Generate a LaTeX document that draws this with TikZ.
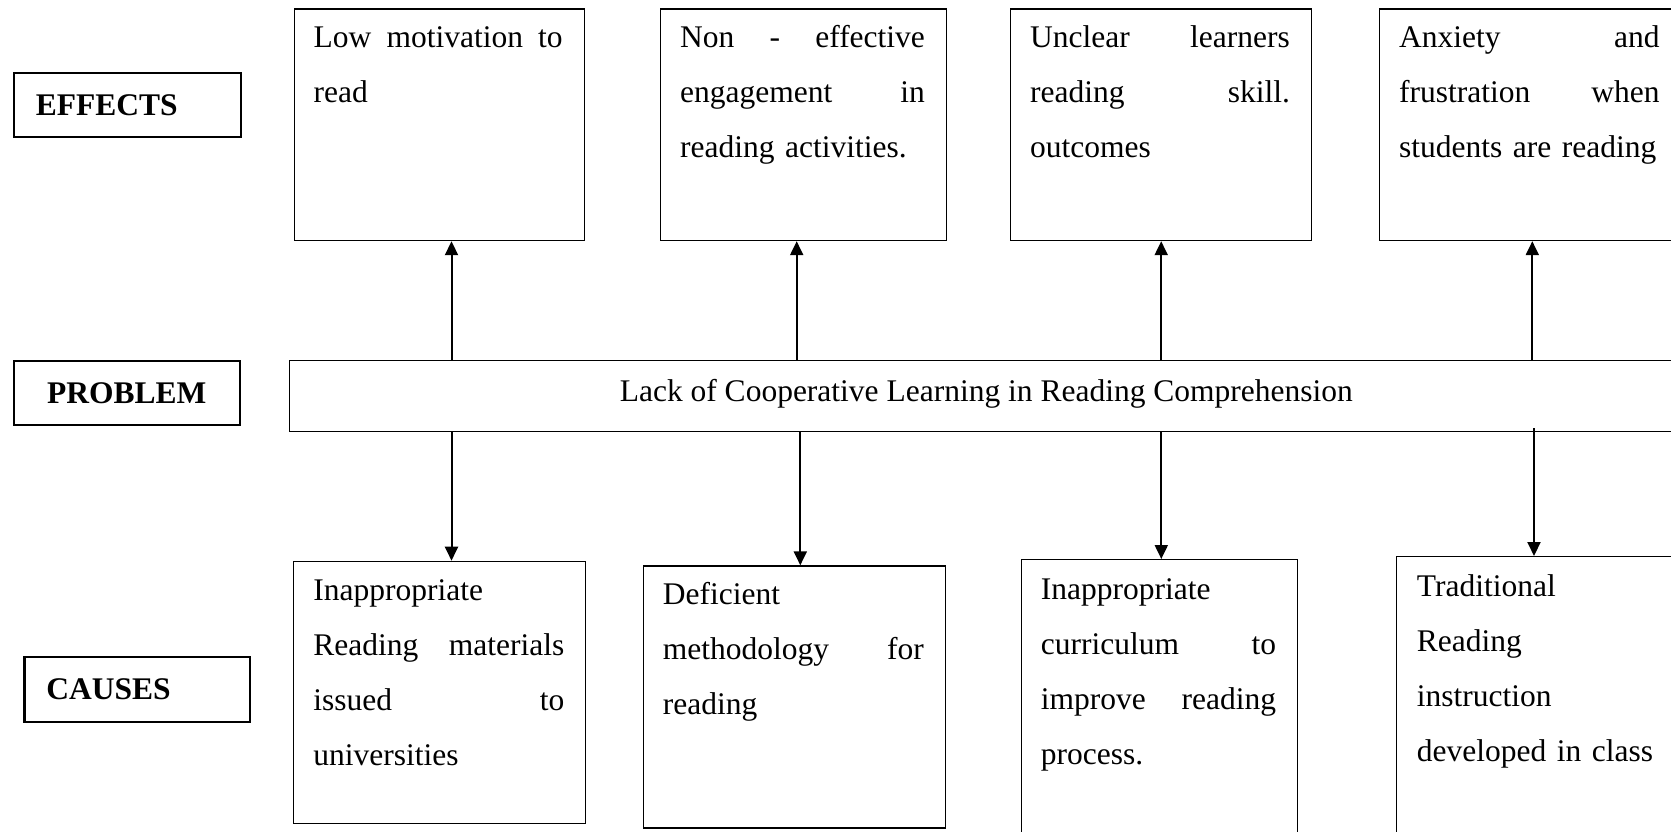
\documentclass[tikz,border=0pt]{standalone}
\usepackage{fontspec}
\setmainfont{Liberation Serif}
\usetikzlibrary{arrows.meta}
\newcommand{\jline}[2]{\leavevmode\hbox to #1{#2}}
\begin{document}
\begin{tikzpicture}[x=1pt,y=-1pt,
  box/.style={draw, line width=1.2pt, inner sep=0pt, anchor=north west},
  lbl/.style={draw, line width=2.2pt, inner ysep=0pt, inner xsep=22pt, anchor=north west, minimum height=64pt, font=\fontsize{31.5}{38}\selectfont\bfseries},
  txt/.style={inner sep=0pt, anchor=base west, align=left, font=\fontsize{31.5}{55}\selectfont},
  arr/.style={line width=2pt, -{Triangle[width=13pt,length=14pt]}}]
\useasboundingbox (0,0) rectangle (1671,831);
\clip (0,0) rectangle (1671,831);

% side labels
\node[lbl, text width=182.9pt, align=left] (leff) at (12.7,71.7) {EFFECTS};
\node[lbl, text width=182pt, align=center] (lprob) at (12.7,360) {PROBLEM};
\node[lbl, text width=181.4pt, align=left, minimum height=64.7pt] (lcau) at (23.3,656) {CAUSES};

% effects
\node[box, minimum width=290pt, minimum height=231.7pt] (e1) at (293.5,8.3) {};
\node[box, minimum width=285.7pt, minimum height=231.7pt] (e2) at (660,8.3) {};
\node[box, minimum width=300.7pt, minimum height=231.7pt] (e3) at (1010,8.3) {};
\node[box, minimum width=301pt, minimum height=231.7pt] (e4) at (1379,8.3) {};

\node[txt, text width=249pt] (e1t) at ([xshift=20pt,yshift=-39.5pt]e1.north west)
  {\jline{249pt}{Low \hfill motivation \hfill to}\\read};
\node[txt, text width=244.7pt] (e2t) at ([xshift=20pt,yshift=-39.5pt]e2.north west)
  {\jline{244.7pt}{Non \hfill - \hfill effective}\\\jline{244.7pt}{engagement \hfill in}\\reading activities.};
\node[txt, text width=259.7pt] (e3t) at ([xshift=20pt,yshift=-39.5pt]e3.north west)
  {\jline{259.7pt}{Unclear \hfill learners}\\\jline{259.7pt}{reading \hfill skill.}\\outcomes};
\node[txt, text width=260.5pt] (e4t) at ([xshift=20pt,yshift=-39.5pt]e4.north west)
  {\jline{260.5pt}{Anxiety \hfill and}\\\jline{260.5pt}{frustration \hfill when}\\students are reading};

% problem
\node[box, minimum width=1394pt, minimum height=71pt] (prob) at (288.7,360) {};
\node[inner sep=0pt, anchor=base, font=\fontsize{31.5}{38}\selectfont] (probt) at ([yshift=-5pt]prob.center)
  {Lack of Cooperative Learning in Reading Comprehension};

% causes
\node[box, minimum width=292pt, minimum height=262pt] (c1) at (292.6,560.7) {};
\node[box, minimum width=302.3pt, minimum height=262pt] (c2) at (642.7,565.3) {};
\node[box, minimum width=276pt, minimum height=300pt] (c3) at (1020.7,559) {};
\node[box, minimum width=300pt, minimum height=300pt] (c4) at (1395.7,556) {};

\node[txt, text width=251pt] (c1t) at ([xshift=20.5pt,yshift=-39.5pt]c1.north west)
  {Inappropriate\\\jline{251pt}{Reading \hfill materials}\\\jline{251pt}{issued \hfill to}\\universities};
\node[txt, text width=261pt] (c2t) at ([xshift=20pt,yshift=-39.5pt]c2.north west)
  {Deficient\\\jline{261pt}{methodology \hfill for}\\reading};
\node[txt, text width=235.3pt] (c3t) at ([xshift=20pt,yshift=-40pt]c3.north west)
  {Inappropriate\\\jline{235.3pt}{curriculum \hfill to}\\\jline{235.3pt}{improve \hfill reading}\\process.};
\node[txt, text width=259pt] (c4t) at ([xshift=21pt,yshift=-40pt]c4.north west)
  {Traditional\\Reading\\instruction\\developed in class};

% arrow positions
\coordinate (u1) at (451.5,0);
\coordinate (u2) at (796.7,0);
\coordinate (u3) at (1161.2,0);
\coordinate (u4) at (1532.3,0);
\coordinate (d1) at (451.5,0);
\coordinate (d2) at (800.3,0);
\coordinate (d3) at (1161.3,0);
\coordinate (d4) at (1534,0);

\draw[arr] (prob.north -| u1) -- (e1.south -| u1);
\draw[arr] (prob.north -| u2) -- (e2.south -| u2);
\draw[arr] (prob.north -| u3) -- (e3.south -| u3);
\draw[arr] (prob.north -| u4) -- (e4.south -| u4);

\draw[arr] (prob.south -| d1) -- (c1.north -| d1);
\draw[arr] (prob.south -| d2) -- (c2.north -| d2);
\draw[arr] (prob.south -| d3) -- (c3.north -| d3);
\draw[arr] ([yshift=4pt]prob.south -| d4) -- (c4.north -| d4);
\end{tikzpicture}
\end{document}
